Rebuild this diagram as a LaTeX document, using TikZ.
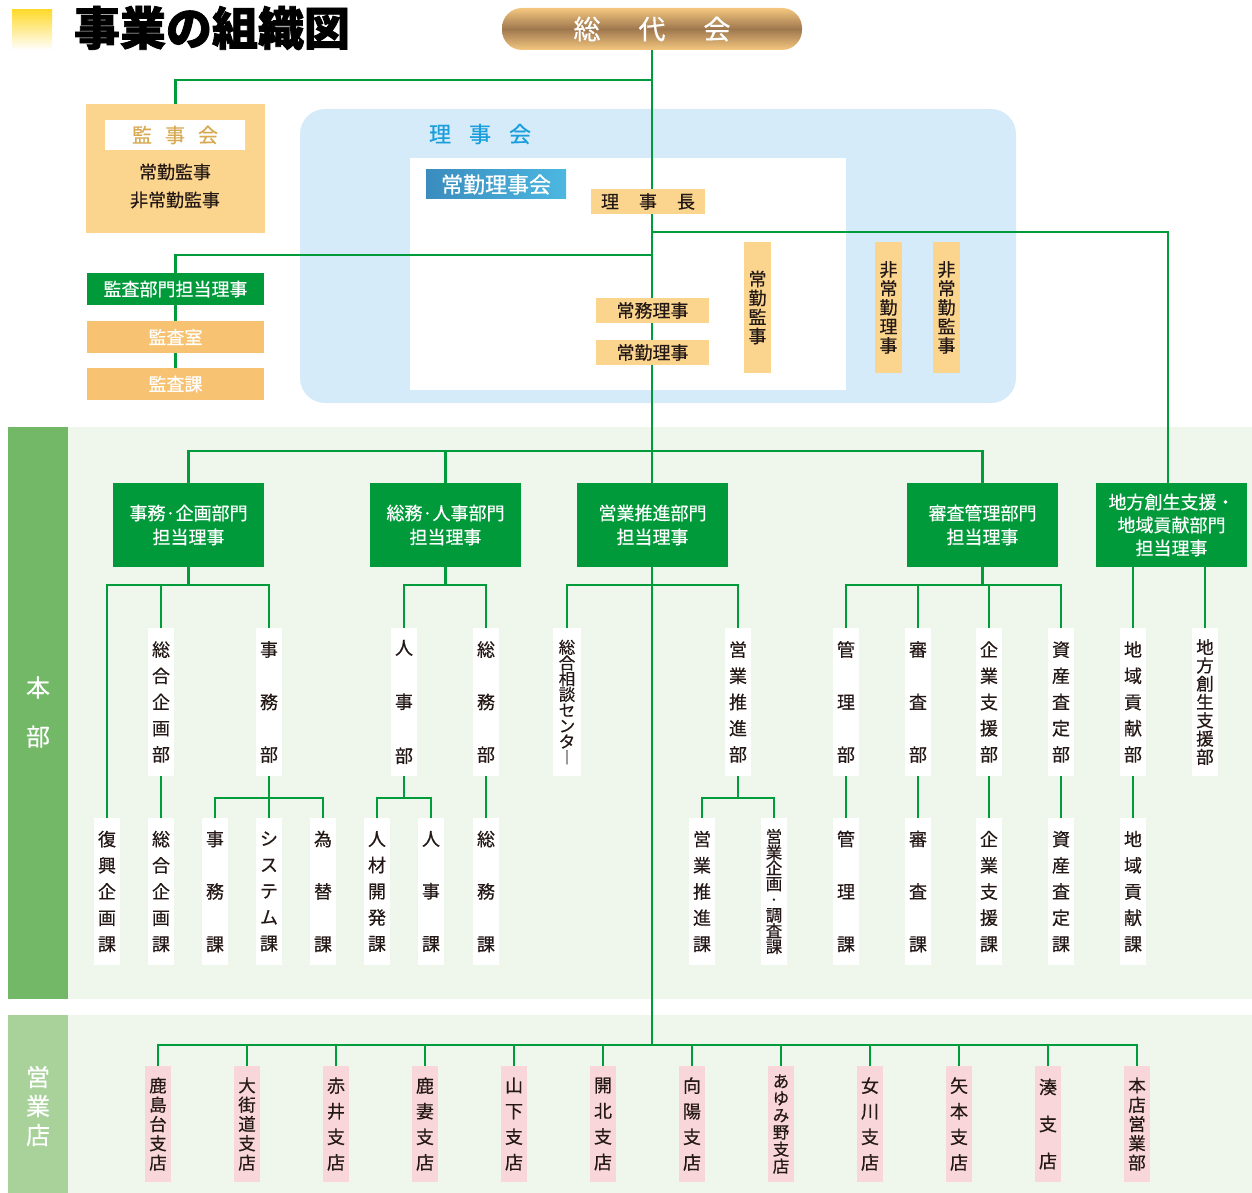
\documentclass[tikz,border=0pt]{standalone}
\usepackage{fontspec}
\newfontfamily\jp{Noto Sans CJK JP}[FakeBold=0.45]
\newfontfamily\jpt{Noto Sans CJK JP}[BoldFeatures={FakeBold=1.6}]
\newcommand\tightls{\lineskiplimit=-20pt\lineskip=0pt\relax}
\definecolor{lgr}{HTML}{009B3A}
\definecolor{bgr}{HTML}{009A3A}
\definecolor{org}{HTML}{FBD58E}
\definecolor{orgb}{HTML}{F7C272}
\definecolor{tanc}{HTML}{D8A953}
\definecolor{lblue}{HTML}{D5EBF9}
\definecolor{tblue}{HTML}{1A9FDC}
\definecolor{band}{HTML}{EFF7EC}
\definecolor{colA}{HTML}{72B866}
\definecolor{colB}{HTML}{A9D29B}
\definecolor{pinkc}{HTML}{F9D6DA}
\definecolor{txt}{HTML}{231815}
\definecolor{jbA}{HTML}{3A8CBE}
\definecolor{jbB}{HTML}{4CB7E1}
\definecolor{goldA}{HTML}{F5C77E}
\definecolor{goldB}{HTML}{9E774F}
\definecolor{yelA}{HTML}{FFDA2E}
\pgfdeclarelayer{bg}\pgfdeclarelayer{ln}\pgfsetlayers{bg,ln,main}
\tikzset{
  conn/.style={draw=lgr, line width=2.6pt},
  bx/.style={inner sep=0pt, outer sep=0pt, align=center, text=txt},
  gbox/.style={bx, fill=bgr, text=white, minimum width=151pt, minimum height=84pt, font=\jp\fontsize{18}{24}\selectfont},
  obox/.style={bx, fill=org, font=\jp\fontsize{18}{22}\selectfont},
  sbox/.style={bx, fill=org, minimum width=27pt, minimum height=131pt, font=\jp\fontsize{18}{19}\selectfont\tightls},
  abox/.style={bx, minimum width=177pt, minimum height=32pt, text=white, font=\jp\fontsize{18}{22}\selectfont},
  mbox/.style={bx, fill=white, minimum width=26pt, minimum height=148pt},
  lbox/.style={bx, fill=white, minimum width=26pt, minimum height=147pt},
  pbox/.style={bx, fill=pinkc, minimum width=26pt, minimum height=116pt},
  sA/.style={font=\jp\fontsize{18}{26.2}\selectfont},
  sB/.style={font=\jp\fontsize{18}{52.5}\selectfont},
  sC/.style={font=\jp\fontsize{17.5}{18.3}\selectfont\tightls},
  sD/.style={font=\jp\fontsize{16.5}{15.7}\selectfont\tightls},
  sE/.style={font=\jp\fontsize{17.5}{19.3}\selectfont\tightls},
  sF/.style={font=\jp\fontsize{18}{25.6}\selectfont},
  sG/.style={font=\jp\fontsize{18}{37}\selectfont},
  sH/.style={font=\jp\fontsize{16.5}{17}\selectfont\tightls},
  lab/.style={bx, text=white, font=\jp\fontsize{24}{29}\selectfont},
}
\begin{document}
\begin{tikzpicture}[x=1pt,y=-1pt]
\useasboundingbox (0,0) rectangle (1252,1193);
% ---------- backgrounds ----------
\begin{pgfonlayer}{bg}
  \fill[band] (8,427) rectangle (1252,999);
  \fill[colA] (8,427) rectangle (68,999);
  \fill[band] (8,1015) rectangle (1252,1193);
  \fill[colB] (8,1015) rectangle (68,1193);
  \fill[lblue, rounded corners=25pt] (300,109) rectangle (1016,403);
  \fill[white] (410,158) rectangle (846,390);
  \shade[top color=yelA, bottom color=white] (12,10) rectangle (52,50);
\end{pgfonlayer}
% ---------- titles ----------
\node[bx, anchor=west, font=\jpt\bfseries\fontsize{46}{50}\selectfont, text=black] (title) at (74,28) {事業の組織図};
\node[bx, minimum width=300pt, minimum height=42pt, rounded corners=20pt,
      top color=goldA, bottom color=goldA, middle color=goldB,
      text=white, font=\jp\fontsize{27}{30}\selectfont] (sdk) at (652,29)
      {総\hspace{38pt}代\hspace{38pt}会};
\node[lab] (honbu) at (38,712) {本\\[20pt]部};
\node[lab] (eigyo) at (38,1106) {営\\業\\店};
% ---------- 監事会 ----------
\node[bx, fill=org, minimum width=179pt, minimum height=129pt] (kjk) at (175.5,168.5) {};
\node[bx, fill=white, minimum width=140pt, minimum height=30pt, text=tanc, font=\jp\fontsize{20}{22}\selectfont] (kjt) at (175,135) {監\hspace{13pt}事\hspace{13pt}会};
\node[bx, font=\jp\fontsize{18}{28}\selectfont] (kjm) at (175,186) {常勤監事\\非常勤監事};
% ---------- 理事会 ----------
\node[bx, text=tblue, font=\jp\fontsize{22}{24}\selectfont] (rjt) at (480,134) {理\hspace{18pt}事\hspace{18pt}会};
\node[bx, left color=jbA, right color=jbB, minimum width=140pt, minimum height=29pt, text=white, font=\jp\fontsize{22}{24}\selectfont] (jrk) at (496,184.5) {常勤理事会};
\node[obox, minimum width=114pt, minimum height=25pt] (rjc) at (648,201.5) {理\hspace{20pt}事\hspace{20pt}長};
\node[obox, minimum width=113pt, minimum height=25pt] (jmr) at (652.5,310.5) {常務理事};
\node[obox, minimum width=113pt, minimum height=25pt] (jkr) at (652.5,352.5) {常勤理事};
\node[sbox] (jkk) at (757.5,307.5) {常\\勤\\監\\事};
\node[sbox] (hjr) at (888.5,307.5) {非\\常\\勤\\理\\事};
\node[sbox] (hjk) at (946.5,307.5) {非\\常\\勤\\監\\事};
% ---------- 監査 ----------
\node[abox, fill=bgr] (kbr) at (175.5,289) {監査部門担当理事};
\node[abox, fill=orgb] (ksh) at (175.5,337) {監査室};
\node[abox, fill=orgb] (kka) at (175.5,384) {監査課};
% ---------- departments ----------
\node[gbox] (d1) at (188.5,525) {事務·企画部門\\担当理事};
\node[gbox] (d2) at (445.5,525) {総務·人事部門\\担当理事};
\node[gbox] (d3) at (652.5,525) {営業推進部門\\担当理事};
\node[gbox] (d4) at (982.5,525) {審査管理部門\\担当理事};
\node[gbox, font=\jp\fontsize{18}{23}\selectfont] (d5) at (1171.5,525) {地方創生支援・\\地域貢献部門\\担当理事};
% ---------- mid boxes ----------
\node[mbox, sA] (m11) at (161,702) {総\\合\\企\\画\\部};
\node[mbox, sB] (m12) at (269,702) {事\\務\\部};
\node[mbox, sB, font=\jp\fontsize{18}{54}\selectfont] (m21) at (404,702) {人\\事\\部};
\node[mbox, sB] (m22) at (486,702) {総\\務\\部};
\node[mbox, sD, minimum width=28pt] (m31) at (567,702) {総\\合\\相\\談\\セ\\ン\\タ\\︱};
\node[mbox, sA] (m32) at (738,702) {営\\業\\推\\進\\部};
\node[mbox, sB] (m41) at (846,702) {管\\理\\部};
\node[mbox, sB] (m42) at (918,702) {審\\査\\部};
\node[mbox, sA] (m43) at (989,702) {企\\業\\支\\援\\部};
\node[mbox, sA] (m44) at (1061,702) {資\\産\\査\\定\\部};
\node[mbox, sA] (m51) at (1133,702) {地\\域\\貢\\献\\部};
\node[mbox, sC] (m52) at (1205,702) {地\\方\\創\\生\\支\\援\\部};
% ---------- lower boxes ----------
\node[lbox, sA] (l11) at (107,891.5) {復\\興\\企\\画\\課};
\node[lbox, sA] (l12) at (161,891.5) {総\\合\\企\\画\\課};
\node[lbox, sB] (l13) at (215,891.5) {事\\務\\課};
\node[lbox, sA] (l14) at (269,891.5) {シ\\ス\\テ\\ム\\課};
\node[lbox, sB] (l15) at (323,891.5) {為\\替\\課};
\node[lbox, sA] (l21) at (377,891.5) {人\\材\\開\\発\\課};
\node[lbox, sB] (l22) at (431,891.5) {人\\事\\課};
\node[lbox, sB] (l23) at (486,891.5) {総\\務\\課};
\node[lbox, sA] (l31) at (702,891.5) {営\\業\\推\\進\\課};
\node[lbox, sD] (l32) at (774,891.5) {営\\業\\企\\画\\·\\調\\査\\課};
\node[lbox, sB] (l41) at (846,891.5) {管\\理\\課};
\node[lbox, sB] (l42) at (918,891.5) {審\\査\\課};
\node[lbox, sA] (l43) at (989,891.5) {企\\業\\支\\援\\課};
\node[lbox, sA] (l44) at (1061,891.5) {資\\産\\査\\定\\課};
\node[lbox, sA] (l51) at (1133,891.5) {地\\域\\貢\\献\\課};
% ---------- branches ----------
\node[pbox, sE] (b1) at (158,1124) {鹿\\島\\台\\支\\店};
\node[pbox, sE] (b2) at (247,1124) {大\\街\\道\\支\\店};
\node[pbox, sF] (b3) at (336,1124) {赤\\井\\支\\店};
\node[pbox, sF] (b4) at (425,1124) {鹿\\妻\\支\\店};
\node[pbox, sF] (b5) at (514,1124) {山\\下\\支\\店};
\node[pbox, sF] (b6) at (603,1124) {開\\北\\支\\店};
\node[pbox, sF] (b7) at (692,1124) {向\\陽\\支\\店};
\node[pbox, sH] (b8) at (781,1124) {あ\\ゆ\\み\\野\\支\\店};
\node[pbox, sF] (b9) at (870,1124) {女\\川\\支\\店};
\node[pbox, sF] (b10) at (959,1124) {矢\\本\\支\\店};
\node[pbox, sG] (b11) at (1048,1124) {湊\\支\\店};
\node[pbox, sE] (b12) at (1137,1124) {本\\店\\営\\業\\部};
% ---------- connectors ----------
\begin{pgfonlayer}{ln}
  \coordinate (bj) at (652,1045);
  \coordinate (j1) at (652,80);
  \coordinate (j2) at (652,255);
  \coordinate (j3) at (652,232);
  \coordinate (j4) at (652,451);
  \draw[conn] (sdk.south) -- (bj);
  \draw[conn] (kjk.north) |- (j1);
  \draw[conn] (kbr.north) |- (j2);
  \draw[conn] (kbr) -- (ksh);
  \draw[conn] (ksh) -- (kka);
  \draw[conn] (j3) -| ([xshift=-3.5pt]d5.north);
  \draw[conn] (d1.north) |- (j4) -| (d4.north);
  \draw[conn] (d2.north) -- (d2.north |- j4);
  % dept 1
  \coordinate (f1) at (188.5,585);
  \coordinate (g1) at (269,798);
  \draw[conn] (d1.south) -- (f1);
  \draw[conn] (l11.north) |- (f1) -| (m12.north);
  \draw[conn] (m11.north) -- (m11.north |- f1);
  \draw[conn] (m11) -- (l12);
  \draw[conn] (m12) -- (l14);
  \draw[conn] (l13.north) |- (g1) -| (l15.north);
  % dept 2
  \coordinate (f2) at (445.5,585);
  \coordinate (g2) at (404,798);
  \draw[conn] (d2.south) -- (f2);
  \draw[conn] (m21.north) |- (f2) -| (m22.north);
  \draw[conn] (m21.south) -- (g2);
  \draw[conn] (l21.north) |- (g2) -| (l22.north);
  \draw[conn] (m22) -- (l23);
  % dept 3
  \coordinate (f3) at (652,585);
  \coordinate (g3) at (738,798);
  \draw[conn] (m31.north) |- (f3) -| (m32.north);
  \draw[conn] (m32.south) -- (g3);
  \draw[conn] (l31.north) |- (g3) -| (l32.north);
  % dept 4
  \coordinate (f4) at (982.5,585);
  \draw[conn] (d4.south) -- (f4);
  \draw[conn] (m41.north) |- (f4) -| (m44.north);
  \draw[conn] (m42.north) -- (m42.north |- f4);
  \draw[conn] (m43.north) -- (m43.north |- f4);
  \draw[conn] (m41) -- (l41);
  \draw[conn] (m42) -- (l42);
  \draw[conn] (m43) -- (l43);
  \draw[conn] (m44) -- (l44);
  % dept 5
  \draw[conn] (m51.north) -- (m51.north |- d5.south);
  \draw[conn] (m52.north) -- (m52.north |- d5.south);
  \draw[conn] (m51) -- (l51);
  % branches
  \draw[conn] (b1.north) |- (bj) -| (b12.north);
  \foreach \b in {b2,b3,b4,b5,b6,b7,b8,b9,b10,b11}
    \draw[conn] (\b.north) -- (\b.north |- bj);
\end{pgfonlayer}
\end{tikzpicture}
\end{document}
